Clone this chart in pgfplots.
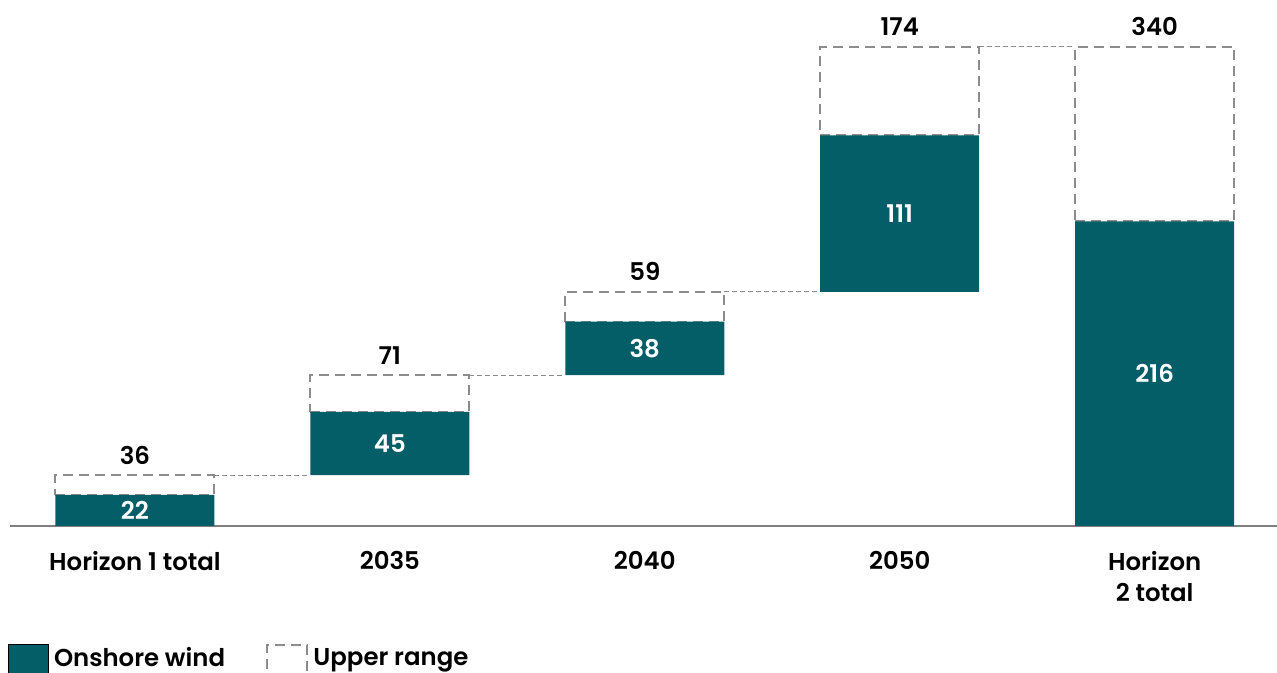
\documentclass[border=0pt]{standalone}
\usepackage{pgfplots}
\pgfplotsset{compat=1.18}
\usepackage{fontspec}
\setmainfont{Poppins}[BoldFont={Poppins SemiBold}]

\definecolor{wind}{RGB}{4,94,103}
\definecolor{rangegray}{RGB}{140,140,140}

\newcommand{\lblfont}{\fontsize{12.2}{15.8}\selectfont\bfseries}

% both axes share the same frame so the overlay lines up with the bars
\pgfplotsset{commonaxis/.style={
    at={(0,0)}, anchor=south west, scale only axis,
    width=633.5pt, height=263pt,
    xmin=-0.49, xmax=4.48, ymin=0, ymax=373,
}}

\begin{document}
\begin{tikzpicture}
\useasboundingbox (-5pt,-73.5pt) rectangle (633.5pt,263pt);

\begin{axis}[
    commonaxis,
    ybar stacked, bar width=79.5pt,
    axis y line=none, axis x line*=bottom,
    x axis line style={draw=gray, line width=1pt, -},
    xtick={0,...,4},
    xticklabels={Horizon 1 total,2035,2040,2050,{Horizon\\2 total}},
    xtick style={draw=none},
    xticklabel style={align=center, font=\lblfont, yshift=-9pt},
    legend columns=2,
    legend cell align=left,
    legend style={at={(axis description cs:0,0)}, anchor=north west,
        xshift=-1pt, yshift=-58.75pt, draw=none, fill=none,
        font=\lblfont, inner sep=0pt, outer sep=0pt,
        nodes={inner xsep=2.6pt, inner ysep=0pt},
        /tikz/every even column/.append style={column sep=18pt}},
    legend image code/.code={\draw[#1] (0pt,-13pt) rectangle (20pt,7pt);},
]
% invisible base of the waterfall
\addplot[draw=none, fill=none, forget plot] coordinates {(0,0)(1,36)(2,107)(3,166)(4,0)};
\addplot[fill=wind, draw=none] coordinates {(0,22)(1,45)(2,38)(3,111)(4,216)};
\addlegendentry{Onshore wind}
\addplot[fill=none, draw=rangegray, line width=1pt, dash pattern=on 5pt off 3pt]
    coordinates {(0,14)(1,26)(2,21)(3,63)(4,124)};
\addlegendentry{Upper range}
\end{axis}

\begin{axis}[commonaxis, hide axis, clip=false]
% connectors between the upper range boxes
\addplot[rangegray, line width=0.5pt, dash pattern=on 2.5pt off 1.5pt, unbounded coords=jump]
    coordinates {(0.312,36)(0.688,36)(1,nan)(1.312,107)(1.688,107)(2,nan)
                 (2.312,166)(2.688,166)(3,nan)(3.312,340)(3.688,340)};
% values inside the bars
\addplot[draw=none, nodes near coords, point meta=explicit symbolic,
    nodes near coords style={font=\lblfont, text=white, anchor=center}]
    coordinates {(0,11)[22](1,58.5)[45](2,126)[38](3,221.5)[111](4,108)[216]};
% upper range totals
\addplot[draw=none, nodes near coords, point meta=explicit symbolic,
    nodes near coords style={font=\lblfont, text=black, anchor=south, yshift=2pt}]
    coordinates {(0,36)[36](1,107)[71](2,166)[59](3,340)[174](4,340)[340]};
\end{axis}
\end{tikzpicture}
\end{document}
